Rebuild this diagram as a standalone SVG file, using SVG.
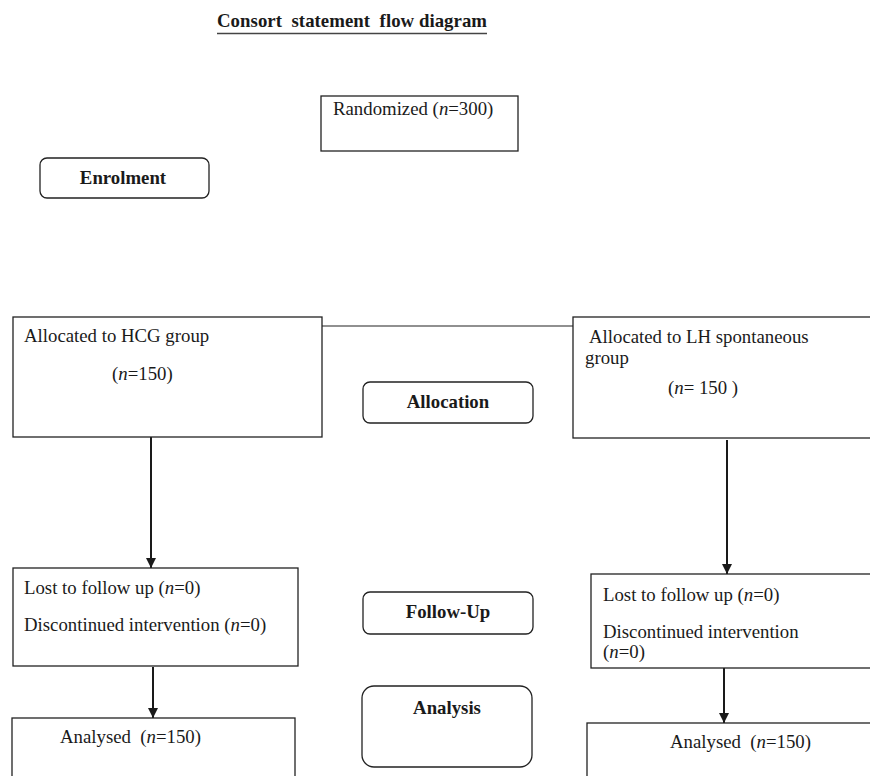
<svg xmlns="http://www.w3.org/2000/svg" width="870" height="776" viewBox="0 0 870 776">
<style>
text{font-family:"Liberation Serif","Times New Roman",serif;font-size:18.8px;fill:#1a1a1a;white-space:pre}
.b{font-weight:bold}
.box{fill:#fff;stroke:#222;stroke-width:1.3}
.con{stroke:#1a1a1a;stroke-width:2;fill:none}
.thin{stroke:#222;stroke-width:1.2;fill:none}
</style>
<defs>
<marker id="ah" viewBox="0 0 10 10" refX="10" refY="5" markerWidth="5" markerHeight="5" orient="auto" markerUnits="strokeWidth">
<path d="M0,0 L10,5 L0,10 Z" fill="#1a1a1a"/>
</marker>
</defs>
<g id="title">
<text class="b" x="217" y="27" textLength="270">Consort  statement  flow diagram</text>
<line x1="217" y1="33.5" x2="487" y2="33.5" stroke="#444" stroke-width="1.3"/>
</g>
<g id="connectors">
<line class="thin" x1="322" y1="326" x2="573" y2="326"/>
<line class="con" x1="151" y1="437" x2="151" y2="568" marker-end="url(#ah)"/>
<line class="con" x1="153" y1="667" x2="153" y2="718" marker-end="url(#ah)"/>
<line class="con" x1="727" y1="440" x2="727" y2="574" marker-end="url(#ah)"/>
<line class="con" x1="724" y1="664" x2="724" y2="723" marker-end="url(#ah)"/>
</g>
<g id="randomized">
<rect class="box" x="321" y="96" width="197" height="55"/>
<text x="333" y="115">Randomized (<tspan font-style="italic">n</tspan>=300)</text>
</g>
<g id="enrolment">
<rect class="box" x="40" y="158" width="169" height="40" rx="7"/>
<text class="b" x="123" y="184" text-anchor="middle">Enrolment</text>
</g>
<g id="hcg">
<rect class="box" x="13" y="317" width="309" height="120"/>
<text x="24" y="342">Allocated to HCG group</text>
<text x="112" y="380">(<tspan font-style="italic">n</tspan>=150)</text>
</g>
<g id="lh">
<rect class="box" x="573" y="317" width="300" height="121"/>
<text x="589" y="343">Allocated to LH spontaneous</text>
<text x="585" y="364">group</text>
<text x="668" y="394">(<tspan font-style="italic">n</tspan>= 150 )</text>
</g>
<g id="allocation">
<rect class="box" x="363" y="382" width="170" height="41" rx="7"/>
<text class="b" x="448" y="408" text-anchor="middle">Allocation</text>
</g>
<g id="followup">
<rect class="box" x="363" y="592" width="170" height="42" rx="7"/>
<text class="b" x="448" y="618" text-anchor="middle">Follow-Up</text>
</g>
<g id="analysis">
<rect class="box" x="362" y="686" width="170" height="81" rx="12"/>
<text class="b" x="447" y="714" text-anchor="middle">Analysis</text>
</g>
<g id="lost-left">
<rect class="box" x="13" y="568" width="285" height="98"/>
<text x="24" y="594">Lost to follow up (<tspan font-style="italic">n</tspan>=0)</text>
<text x="24" y="631">Discontinued intervention (<tspan font-style="italic">n</tspan>=0)</text>
</g>
<g id="lost-right">
<rect class="box" x="591" y="574" width="282" height="94"/>
<text x="603" y="601">Lost to follow up (<tspan font-style="italic">n</tspan>=0)</text>
<text x="603" y="638">Discontinued intervention</text>
<text x="603" y="658">(<tspan font-style="italic">n</tspan>=0)</text>
</g>
<g id="analysed-left">
<rect class="box" x="12" y="718" width="283" height="70"/>
<text x="60" y="743">Analysed  (<tspan font-style="italic">n</tspan>=150)</text>
</g>
<g id="analysed-right">
<rect class="box" x="587" y="723" width="286" height="70"/>
<text x="670" y="748">Analysed  (<tspan font-style="italic">n</tspan>=150)</text>
</g>
</svg>
